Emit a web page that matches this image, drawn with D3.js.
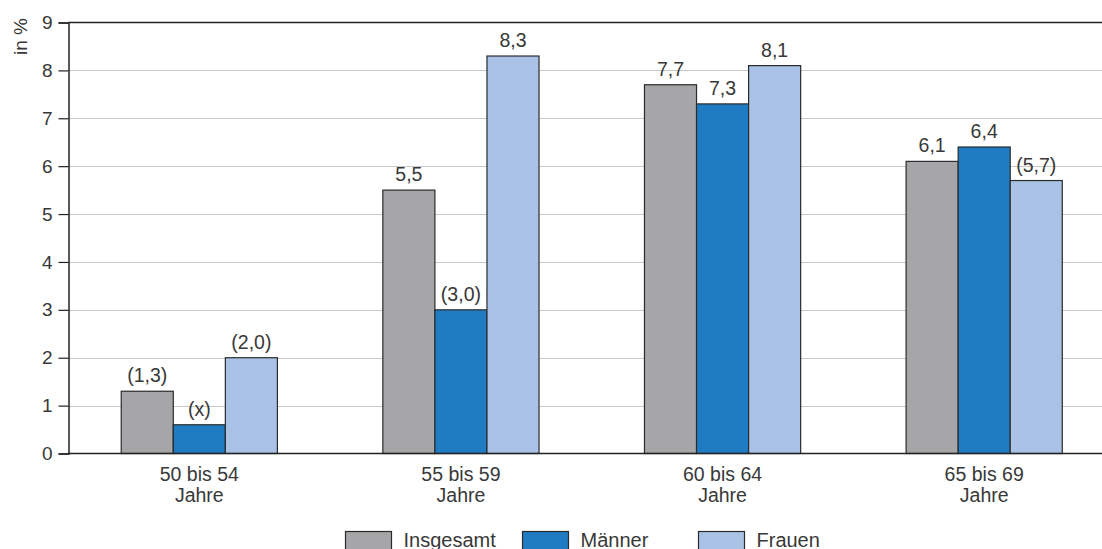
<!DOCTYPE html>
<html>
<head>
<meta charset="utf-8">
<script src="https://cdn.jsdelivr.net/npm/d3@7"></script>
<style>
  html, body { margin: 0; padding: 0; background: #fff; }
  svg { display: block; font-family: "Liberation Sans", Arial, sans-serif; }
</style>
</head>
<body>
<svg id="chart" width="1102" height="549"></svg>
<script>
// Age groups (two-line labels) and series
const categories = ["50 bis 54|Jahre", "55 bis 59|Jahre", "60 bis 64|Jahre", "65 bis 69|Jahre"];
const seriesNames = ["Insgesamt", "Männer", "Frauen"];
const seriesColors = ["#a6a6a8", "#1f7cc2", "#a9c2e6"];

// Values in % per series, one entry per age group
const insgesamt = [1.3, 5.5, 7.7, 6.1];
const maenner   = [0.6, 3.0, 7.3, 6.4];
const frauen    = [2.0, 8.3, 8.1, 5.7];

// Printed labels above bars (parentheses = limited reliability, x = not shown)
const labelsInsgesamt = ["(1,3)", "5,5", "7,7", "6,1"];
const labelsMaenner   = ["(x)", "(3,0)", "7,3", "6,4"];
const labelsFrauen    = ["(2,0)", "8,3", "8,1", "(5,7)"];

const yTicks = [0, 1, 2, 3, 4, 5, 6, 7, 8, 9];

const series = [
  { name: seriesNames[0], values: insgesamt, labels: labelsInsgesamt, color: seriesColors[0] },
  { name: seriesNames[1], values: maenner,   labels: labelsMaenner,   color: seriesColors[1] },
  { name: seriesNames[2], values: frauen,    labels: labelsFrauen,    color: seriesColors[2] }
];

const svg = d3.select("#chart");
const plotLeft = 68.5, plotRight = 1115, plotTop = 22.5, plotBottom = 453.5;
const textColor = "#383838";
const fontSize = 19.5;

const y = d3.scaleLinear().domain([0, 9]).range([plotBottom, plotTop]);
const x0 = d3.scaleBand().domain(categories).range([plotLeft, plotRight])
  .paddingInner(0.403).paddingOuter(0.2015);
const x1 = d3.scaleBand().domain(seriesNames).range([0, x0.bandwidth()]);

// Horizontal gridlines
svg.append("g").selectAll("line").data(yTicks.filter(t => t > 0 && t < 9)).join("line")
  .attr("x1", plotLeft).attr("x2", plotRight)
  .attr("y1", d => Math.round(y(d)) + 0.5).attr("y2", d => Math.round(y(d)) + 0.5)
  .attr("stroke", "#c8c8c8").attr("stroke-width", 1.2);

// Top frame line at 9
svg.append("line")
  .attr("x1", plotLeft).attr("x2", plotRight)
  .attr("y1", y(9)).attr("y2", y(9))
  .attr("stroke", "#222").attr("stroke-width", 1.5);

// Bars
const groups = svg.append("g").selectAll("g").data(categories).join("g")
  .attr("transform", d => `translate(${x0(d)},0)`);

groups.each(function(cat, ci) {
  const g = d3.select(this);
  series.forEach(s => {
    g.append("rect")
      .attr("x", x1(s.name))
      .attr("y", y(s.values[ci]))
      .attr("width", x1.bandwidth())
      .attr("height", y(0) - y(s.values[ci]))
      .attr("fill", s.color)
      .attr("stroke", "#2b2b2b")
      .attr("stroke-width", 1.2);
    g.append("text")
      .attr("x", x1(s.name) + x1.bandwidth() / 2)
      .attr("y", y(s.values[ci]) - 9)
      .attr("text-anchor", "middle")
      .attr("font-size", fontSize)
      .attr("fill", textColor)
      .text(s.labels[ci]);
  });
});

// Y axis
const yAxis = d3.axisLeft(y).tickValues(yTicks).tickSize(10).tickPadding(6)
  .tickFormat(d3.format("d"));
const ya = svg.append("g").attr("transform", `translate(${plotLeft},0)`).call(yAxis);
ya.select(".domain").attr("stroke", "#222").attr("stroke-width", 1.5);
ya.selectAll(".tick line").attr("stroke", "#222").attr("stroke-width", 1.2);
ya.selectAll(".tick text").attr("font-size", 19).attr("fill", textColor)
  .attr("font-family", "Liberation Sans, Arial, sans-serif");

// Baseline
svg.append("line")
  .attr("x1", plotLeft).attr("x2", plotRight)
  .attr("y1", y(0)).attr("y2", y(0))
  .attr("stroke", "#222").attr("stroke-width", 1.5);

// Y axis title
svg.append("text")
  .attr("transform", `translate(27,36.5) rotate(-90)`)
  .attr("text-anchor", "middle")
  .attr("font-size", 19)
  .attr("fill", textColor)
  .text("in %");

// Category labels (two lines)
svg.append("g").selectAll("text").data(categories).join("text")
  .attr("x", d => x0(d) + x0.bandwidth() / 2)
  .attr("y", 481)
  .attr("text-anchor", "middle")
  .attr("font-size", fontSize)
  .attr("fill", textColor)
  .each(function(d) {
    const parts = d.split("|");
    const t = d3.select(this);
    parts.forEach((p, i) => {
      t.append("tspan").attr("x", x0(d) + x0.bandwidth() / 2)
        .attr("dy", i === 0 ? 0 : 21).text(p);
    });
  });

// Legend
const legendX = [345.5, 522.5, 698.5];
const legend = svg.append("g").selectAll("g").data(series).join("g")
  .attr("transform", (d, i) => `translate(${legendX[i]},531.5)`);
legend.append("rect")
  .attr("width", 46).attr("height", 22)
  .attr("fill", d => d.color)
  .attr("stroke", "#2b2b2b").attr("stroke-width", 1.2);
legend.append("text")
  .attr("x", 58).attr("y", 15)
  .attr("font-size", 20)
  .attr("fill", textColor)
  .text(d => d.name);
</script>
</body>
</html>
